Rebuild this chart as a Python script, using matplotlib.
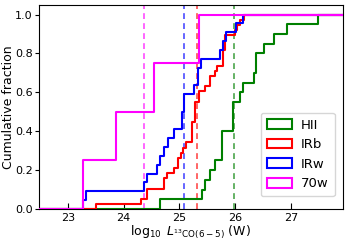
import numpy as np
import matplotlib
matplotlib.use("Agg")
import matplotlib.pyplot as plt
from matplotlib.patches import Patch

# log10 L values per class (read from the cumulative steps)
hii = [24.66, 25.40, 25.45, 25.54, 25.64, 25.76, 25.76, 25.76, 25.96, 25.96,
       25.96, 26.08, 26.14, 26.33, 26.37, 26.37, 26.51, 26.69, 26.93, 27.49]
irb = [23.51, 24.31, 24.42, 24.42, 24.72, 24.72, 24.78, 24.91, 24.97, 24.97,
       25.03, 25.07, 25.11, 25.22, 25.22, 25.22, 25.22, 25.28, 25.28, 25.28,
       25.28, 25.36, 25.36, 25.45, 25.54, 25.54, 25.63, 25.68, 25.79, 25.79,
       25.79, 25.82, 25.82, 25.82, 26.00, 26.03, 26.09, 26.15]
irw = [23.27, 23.33, 24.36, 24.42, 24.60, 24.66, 24.73, 24.79, 24.91, 25.04,
       25.04, 25.09, 25.09, 25.27, 25.34, 25.34, 25.39, 25.73, 25.78, 25.83,
       26.02, 26.14]
w70 = [23.27, 23.87, 24.55, 25.35]

labels = ["HII", "IRb", "IRw", "70w"]
colors = ["green", "red", "blue", "magenta"]
medians = [25.97, 25.32, 25.08, 24.37]
series = [hii, irb, irw, w70]

xlim = (22.48, 27.93)
ylim = (0.0, 1.05)

fig = plt.figure(figsize=(3.47, 2.43), dpi=100)
ax = fig.add_axes([0.112, 0.140, 0.876, 0.840])

for data, c in zip(series, colors):
    v = np.sort(np.asarray(data))
    n = len(v)
    xs = np.concatenate([[xlim[0]], v, [xlim[1]]])
    ys = np.concatenate([[0.0], np.arange(1, n + 1) / n, [1.0]])
    ax.step(xs, ys, where="post", color=c, lw=1.5, clip_on=True, zorder=3)

for m, c in zip(medians, colors):
    ax.axvline(m, color=c, ls="--", lw=1.2, alpha=0.7, dashes=(3.5, 2.5), zorder=2)

ax.set_xlim(*xlim)
ax.set_ylim(*ylim)
ax.set_xticks([23, 24, 25, 26, 27])
ax.set_yticks([0.0, 0.2, 0.4, 0.6, 0.8, 1.0])
ax.tick_params(axis="x", direction="in", labelsize=8, length=4, pad=3)
ax.tick_params(axis="y", direction="out", labelsize=8, length=3, pad=1.5)
ax.set_ylabel("Cumulative fraction", fontsize=9, labelpad=0)
ax.set_xlabel(r"$\log_{10}\ L_{^{13}\mathrm{CO}(6-5)}$ (W)", fontsize=9, labelpad=0.5)

handles = [Patch(facecolor="none", edgecolor=c, lw=1.5, label=l) for l, c in zip(labels, colors)]
ax.legend(handles=handles, loc="lower right", fontsize=9.5, frameon=True,
          handlelength=1.9, handleheight=0.75, borderpad=0.45, labelspacing=0.5,
          handletextpad=0.7, bbox_to_anchor=(0.995, 0.03))

fig.savefig("out.png", dpi=100)
